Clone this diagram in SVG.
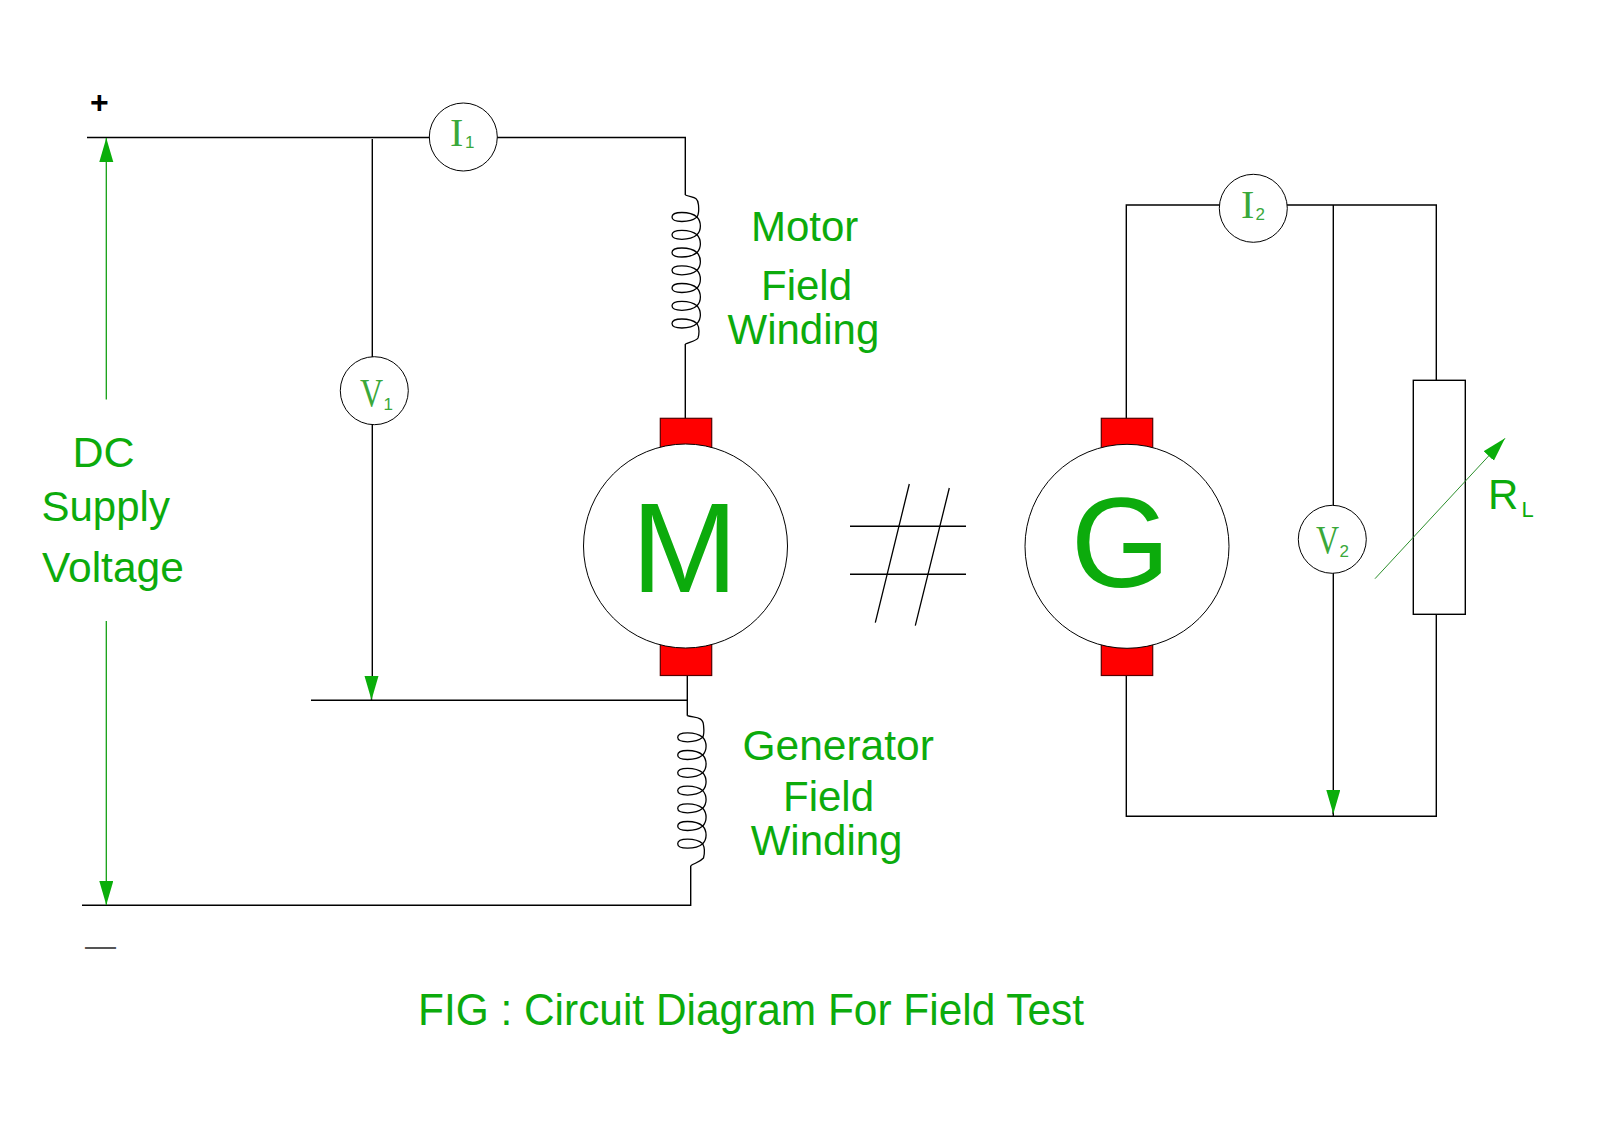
<svg xmlns="http://www.w3.org/2000/svg" xmlns:xlink="http://www.w3.org/1999/xlink" width="1600" height="1132" viewBox="0 0 1600 1132">
<style>
text{font-family:"Liberation Sans",Arial,sans-serif;fill:#0cab0c}
.w{fill:none;stroke:#000;stroke-width:1.4}
.g{fill:none;stroke:#12a012;stroke-width:1.3}
.thin{fill:none;stroke:#2c8f2c;stroke-width:1}
.meter{fill:#fff;stroke:#000;stroke-width:1}
.brush{fill:#f00;stroke:#500;stroke-width:1.2}
.lab{font-size:42px}
.big{font-size:128px}
.sym{font-family:"Liberation Serif",serif;font-size:40px;fill:#3aa83a}
.symv{font-family:"Liberation Serif",serif;font-size:32px;fill:#3aa83a}
.sub{font-size:17px;fill:#3aa83a}
.c{fill:none;stroke:#000;stroke-width:1.3}
</style>
<defs>
<marker id="head" markerUnits="userSpaceOnUse" markerWidth="26" markerHeight="16" refX="24" refY="7" orient="auto"><path d="M0 0L24 7L0 14Z" fill="#0aae0a"/></marker>
<path id="turn" class="c" d="M0 0C-7 -6 -25 -6 -25 0C-25 6 -7 6 0 0C4.500 5 4.500 13 0 17.8"/>
</defs>
<rect width="1600" height="1132" fill="#fff"/>
<g id="connectors">
<path class="w" d="M87 137.5H685.3V195"/>
<path class="w" d="M372.3 139V357"/>
<path class="w" d="M372.3 424V680"/>
<path class="w" d="M311 700.3H687.3"/>
<path class="w" d="M685.3 344V419"/>
<path class="w" d="M687.3 675.5V715.7"/>
<path class="w" d="M82 905.3H690.7V865.7"/>
<path class="w" d="M1126.3 419V205H1436.3V380"/>
<path class="w" d="M1126.3 675.5V816.3H1436.3V614"/>
<path class="w" d="M1333.3 205V506"/>
<path class="w" d="M1333.3 573V816"/>
<path class="g" d="M106.3 399.5V138" marker-end="url(#head)"/>
<path class="g" d="M106.3 621V905" marker-end="url(#head)"/>
<path class="w" d="M371.5 677V700" marker-end="url(#head)"/>
<path class="w" d="M1333.3 790V814" marker-end="url(#head)"/>
</g>
<g id="motor-field-winding">
<path class="c" d="M685.3 195C692 198 698 196 698.5 205C699 210 699 214 697 217"/>
<use xlink:href="#turn" href="#turn" x="697" y="217"/>
<use xlink:href="#turn" href="#turn" x="697" y="234.8"/>
<use xlink:href="#turn" href="#turn" x="697" y="252.5"/>
<use xlink:href="#turn" href="#turn" x="697" y="270.3"/>
<use xlink:href="#turn" href="#turn" x="697" y="288"/>
<use xlink:href="#turn" href="#turn" x="697" y="305.8"/>
<path class="c" d="M697 323.5C690 317.5 672 317.5 672 323.5C672 329.5 690 329.5 697 323.5C700 328 699 335 698 338C696 341 690 342 685.3 344"/>
<text class="lab" x="751" y="240.7">Motor</text>
<text class="lab" x="761" y="300">Field</text>
<text class="lab" x="727.500" y="344">Winding</text>
</g>
<g id="generator-field-winding">
<path class="c" d="M687.3 715.7C694 718 703 716 703.5 725C704 730 704.500 734 702.700 737.300"/>
<use xlink:href="#turn" href="#turn" x="702.700" y="737.300"/>
<use xlink:href="#turn" href="#turn" x="702.700" y="755"/>
<use xlink:href="#turn" href="#turn" x="702.700" y="772.800"/>
<use xlink:href="#turn" href="#turn" x="702.700" y="790.600"/>
<use xlink:href="#turn" href="#turn" x="702.700" y="808.300"/>
<use xlink:href="#turn" href="#turn" x="702.700" y="826"/>
<path class="c" d="M702.700 843.700C695.700 837.700 677.700 837.700 677.700 843.700C677.700 849.700 695.700 849.700 702.700 843.700C705 848 704.500 854 703.500 858C700 862 695 863 690.700 865.700"/>
<text class="lab" x="742.500" y="760" style="font-size:42.500px">Generator</text>
<text class="lab" x="783" y="810.500">Field</text>
<text class="lab" x="750.700" y="854.500">Winding</text>
</g>
<g id="motor">
<rect class="brush" x="660.300" y="418.300" width="51.400" height="32"/>
<rect class="brush" x="660.300" y="644" width="51.400" height="31.500"/>
<circle class="meter" cx="685.500" cy="546" r="102"/>
<text class="big" x="684.500" y="592" text-anchor="middle">M</text>
</g>
<g id="coupling">
<path class="w" d="M850 526.300H966M850 574.300H966"/>
<path class="c" d="M909.300 484L875.300 622.700M949.300 488L915.300 625.700"/>
</g>
<g id="generator">
<rect class="brush" x="1101.300" y="418.300" width="51.400" height="32"/>
<rect class="brush" x="1101.300" y="644" width="51.400" height="31.500"/>
<circle class="meter" cx="1127" cy="546.300" r="102"/>
<text class="big" x="1120.500" y="587" text-anchor="middle">G</text>
</g>
<g id="meter-I1">
<circle class="meter" cx="463.300" cy="137" r="34"/>
<text class="sym" x="450" y="146">I</text>
<text class="sub" x="465" y="148">1</text>
</g>
<g id="meter-V1">
<circle class="meter" cx="374.300" cy="390.700" r="34"/>
<text class="symv" transform="translate(360 405.700) scale(1 1.25)">V</text>
<text class="sub" x="383.500" y="409.700">1</text>
</g>
<g id="meter-I2">
<circle class="meter" cx="1253.300" cy="208.300" r="34"/>
<text class="sym" x="1241" y="218">I</text>
<text class="sub" x="1255.500" y="220">2</text>
</g>
<g id="meter-V2">
<circle class="meter" cx="1332.300" cy="539.300" r="34"/>
<text class="symv" transform="translate(1316 552.700) scale(1 1.25)">V</text>
<text class="sub" x="1339.500" y="556.700">2</text>
</g>
<g id="load-resistor">
<rect x="1413.300" y="380.300" width="52" height="234" fill="#fff" stroke="#000" stroke-width="1.400"/>
<path class="thin" d="M1375 578.700L1505 438.300" marker-end="url(#head)"/>
<text class="lab" x="1488" y="509">R</text>
<text x="1521.500" y="516.700" style="font-size:22px">L</text>
</g>
<g id="supply-labels">
<text x="90" y="113" style="font-size:32px;font-weight:bold;fill:#000">+</text>
<text x="85" y="956" style="font-size:31px;fill:#555">—</text>
<text class="lab" x="72.500" y="466.700" style="font-size:43px">DC</text>
<text class="lab" x="41.500" y="521">Supply</text>
<text class="lab" x="42" y="582" style="font-size:42.500px">Voltage</text>
</g>
<g id="caption">
<text x="418" y="1025" style="font-size:44px" textLength="666" lengthAdjust="spacingAndGlyphs">FIG : Circuit Diagram For Field Test</text>
</g>
</svg>
